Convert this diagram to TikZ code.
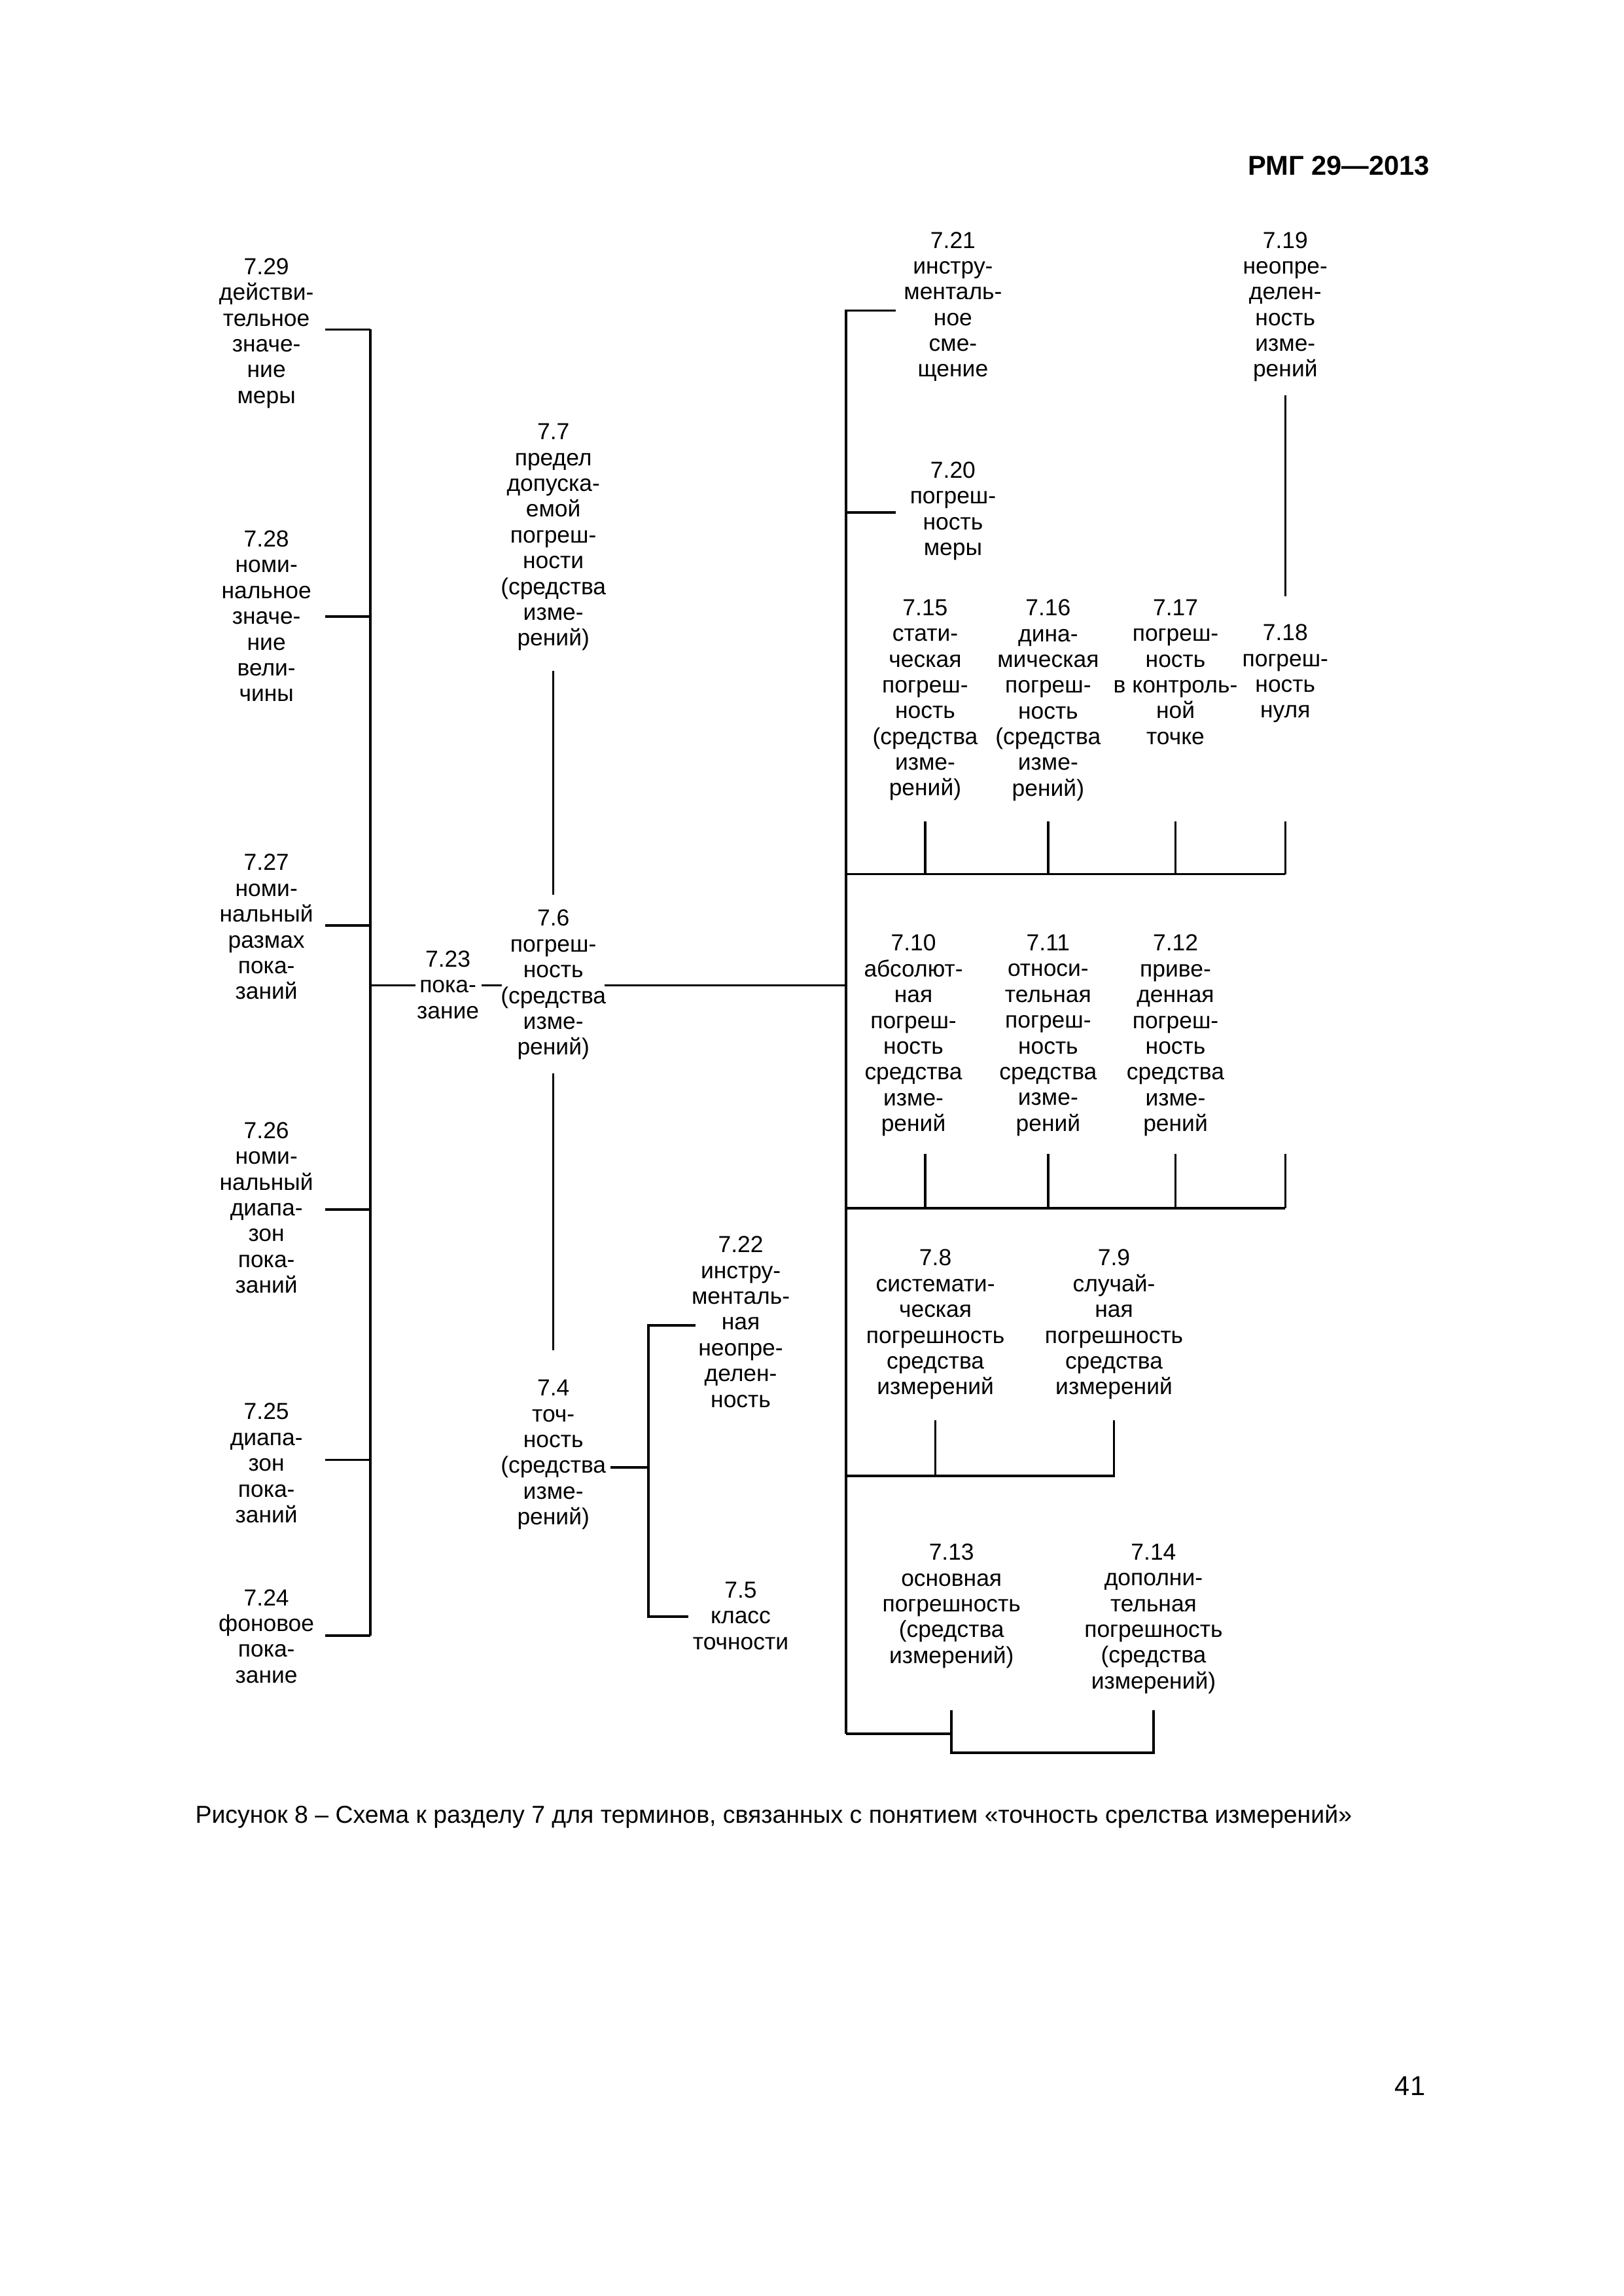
\documentclass[tikz,border=0pt]{standalone}
\usepackage{fontspec}
\setmainfont{Liberation Sans}
\begin{document}
\begin{tikzpicture}[x=0.53679pt,y=-0.53679pt,
  term/.style={align=center,inner sep=0pt,anchor=north,font=\fontsize{8.5}{9.45}\selectfont},
  ln/.style={line width=0.85pt},
  thinln/.style={line width=0.65pt}]
\useasboundingbox (0,0) rectangle (1109,1568);

% header, page number, caption
\node[anchor=base east,inner sep=0pt,font=\bfseries\fontsize{10}{12}\selectfont] (hdr) at (977,119.5) {РМГ 29—2013};
\node[anchor=base east,inner sep=0pt,font=\fontsize{10}{12}\selectfont] (pg) at (974,1431) {41};
\node[anchor=base,inner sep=0pt,font=\fontsize{8.98}{11}\selectfont] (cap) at (528.5,1245) {Рисунок 8 – Схема к разделу 7 для терминов, связанных с понятием «точность срелства измерений»};

% left column
\node[term] (n729) at (182,176) {7.29\\действи-\\тельное\\значе-\\ние\\меры};
\node[term] (n728) at (182,362) {7.28\\номи-\\нальное\\значе-\\ние\\вели-\\чины};
\node[term] (n727) at (182,583) {7.27\\номи-\\нальный\\размах\\пока-\\заний};
\node[term] (n726) at (182,766) {7.26\\номи-\\нальный\\диапа-\\зон\\пока-\\заний};
\node[term] (n725) at (182,958) {7.25\\диапа-\\зон\\пока-\\заний};
\node[term] (n724) at (182,1085) {7.24\\фоновое\\пока-\\зание};

% middle
\node[term] (n723) at (306,649) {7.23\\пока-\\зание};
\node[term] (n77) at (378,289) {7.7\\предел\\допуска-\\емой\\погреш-\\ности\\(средства\\изме-\\рений)};
\node[term] (n76) at (378,621) {7.6\\погреш-\\ность\\(средства\\изме-\\рений)};
\node[term] (n74) at (378,942) {7.4\\точ-\\ность\\(средства\\изме-\\рений)};
\node[term] (n722) at (506,844) {7.22\\инстру-\\менталь-\\ная\\неопре-\\делен-\\ность};
\node[term] (n75) at (506,1080) {7.5\\класс\\точности};

% right
\node[term] (n721) at (651,158) {7.21\\инстру-\\менталь-\\ное\\сме-\\щение};
\node[term] (n720) at (651,315) {7.20\\погреш-\\ность\\меры};
\node[term] (n719) at (878,158) {7.19\\неопре-\\делен-\\ность\\изме-\\рений};
\node[term] (n715) at (632,409) {7.15\\стати-\\ческая\\погреш-\\ность\\(средства\\изме-\\рений)};
\node[term] (n716) at (716,409) {7.16\\дина-\\мическая\\погреш-\\ность\\(средства\\изме-\\рений)};
\node[term] (n717) at (803,409) {7.17\\погреш-\\ность\\в контроль-\\ной\\точке};
\node[term] (n718) at (878,426) {7.18\\погреш-\\ность\\нуля};
\node[term] (n710) at (624,638) {7.10\\абсолют-\\ная\\погреш-\\ность\\средства\\изме-\\рений};
\node[term] (n711) at (716,638) {7.11\\относи-\\тельная\\погреш-\\ность\\средства\\изме-\\рений};
\node[term] (n712) at (803,638) {7.12\\приве-\\денная\\погреш-\\ность\\средства\\изме-\\рений};
\node[term] (n78) at (639,853) {7.8\\системати-\\ческая\\погрешность\\средства\\измерений};
\node[term] (n79) at (761,853) {7.9\\случай-\\ная\\погрешность\\средства\\измерений};
\node[term] (n713) at (650,1054) {7.13\\основная\\погрешность\\(средства\\измерений)};
\node[term] (n714) at (788,1054) {7.14\\дополни-\\тельная\\погрешность\\(средства\\измерений)};

% ---- connector coordinates ----
% left bus
\coordinate (lbT) at (253,225);
\coordinate (lbB) at (253,1117);
\foreach \n/\y in {729/225,728/421,727/632,726/826,725/997,724/1117}{
  \coordinate (t\n) at (222,\y);
  \coordinate (b\n) at (253,\y);
}
\draw[ln] (lbT) -- (lbB);
\foreach \n in {729,728,727,726,725,724}{ \draw[ln] (t\n) -- (b\n); }

% 7.23 / 7.6 line
\coordinate (l23a) at (253,673);
\coordinate (l23b) at (284,673);
\coordinate (l23c) at (329,673);
\coordinate (l23d) at (343,673);
\coordinate (l76r) at (413,673);
\coordinate (rb76) at (578,673);
\draw[thinln] (l23a) -- (l23b);
\draw[thinln] (l23c) -- (l23d);
\draw[thinln] (l76r) -- (rb76);

% 7.7 - 7.6 - 7.4
\coordinate (v77) at (378,458);
\coordinate (v76t) at (378,611);
\coordinate (v76b) at (378,733);
\coordinate (v74t) at (378,922);
\draw[ln] (v77) -- (v76t);
\draw[ln] (v76b) -- (v74t);

% 7.4 -> 7.22 / 7.5
\coordinate (h74a) at (417,1002);
\coordinate (h74b) at (443,1002);
\coordinate (br4T) at (443,905);
\coordinate (br4B) at (443,1104);
\coordinate (t722) at (475,905);
\coordinate (t75) at (470,1104);
\draw[ln] (h74a) -- (h74b);
\draw[ln] (t722) -- (br4T) -- (br4B) -- (t75);

% right main bus
\coordinate (rbT) at (578,212);
\coordinate (rbB) at (578,1184);
\coordinate (t721) at (612,212);
\coordinate (t720) at (612,350);
\coordinate (b720) at (578,350);
\draw[ln] (t721) -- (rbT) -- (rbB);
\draw[ln] (b720) -- (t720);

% 7.19 - 7.18
\coordinate (v719a) at (878,270);
\coordinate (v719b) at (878,407);
\draw[ln] (v719a) -- (v719b);

% bus under 7.15-7.18
\coordinate (bus1L) at (578,597);
\coordinate (bus1R) at (878,597);
\draw[ln] (bus1L) -- (bus1R);
\foreach \x in {632,716,803,878}{
  \draw[ln] (\x,561) coordinate (u\x) -- (\x,597) coordinate (ub\x);
}

% bus under 7.10-7.12
\coordinate (bus2L) at (578,825);
\coordinate (bus2R) at (878,825);
\draw[ln] (bus2L) -- (bus2R);
\foreach \x in {632,716,803,878}{
  \draw[ln] (\x,788) coordinate (w\x) -- (\x,825) coordinate (wb\x);
}

% 7.8 / 7.9
\coordinate (bus3L) at (578,1008);
\coordinate (bus3R) at (761,1008);
\coordinate (v78t) at (639,970);
\coordinate (v78b) at (639,1008);
\coordinate (v79t) at (761,970);
\draw[ln] (bus3L) -- (bus3R) -- (v79t);
\draw[ln] (v78t) -- (v78b);

% 7.13 / 7.14
\coordinate (b713j) at (650,1184);
\coordinate (v713t) at (650,1168);
\coordinate (v713b) at (650,1197);
\coordinate (v714b) at (788,1197);
\coordinate (v714t) at (788,1168);
\draw[ln] (rbB) -- (b713j);
\draw[ln] (v713t) -- (v713b) -- (v714b) -- (v714t);
\end{tikzpicture}
\end{document}
